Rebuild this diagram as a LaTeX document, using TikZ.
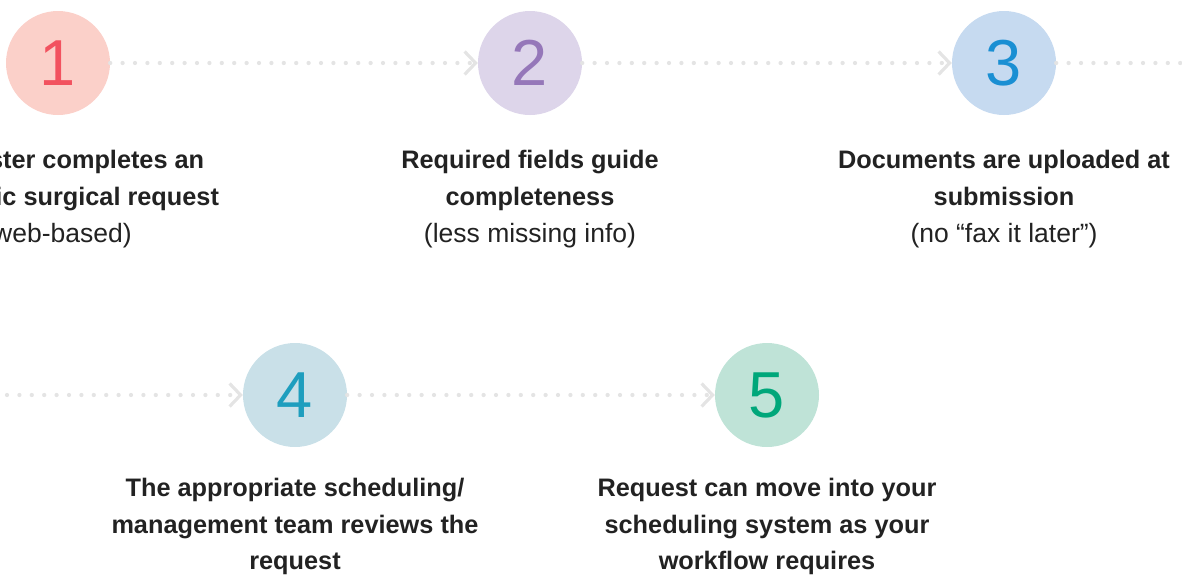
\documentclass[tikz,border=0pt]{standalone}
\usepackage{fontspec}
\setmainfont{Liberation Sans}
\usetikzlibrary{arrows.meta}
\definecolor{dotgray}{HTML}{E4E4E4}
\definecolor{txtdark}{HTML}{222222}
\definecolor{fillA}{HTML}{FBD0C9}\definecolor{numA}{HTML}{F2525F}
\definecolor{fillB}{HTML}{DDD5EA}\definecolor{numB}{HTML}{9577B9}
\definecolor{fillC}{HTML}{C6DAF0}\definecolor{numC}{HTML}{1A8FD3}
\definecolor{fillD}{HTML}{C9E0E8}\definecolor{numD}{HTML}{1E9EBE}
\definecolor{fillE}{HTML}{BFE3D7}\definecolor{numE}{HTML}{00A77A}
\tikzset{
  stepcircle/.style={circle, inner sep=0pt, minimum size=104pt,
    font=\fontsize{65}{65}\selectfont},
  dotbase/.style={draw=dotgray, line width=4.3pt, line cap=round,
    dash pattern=on 0pt off 12.4pt},
  dotline/.style={dotbase,
    -{Straight Barb[length=11pt, width=23pt, line width=3.2pt, line cap=butt]}},
  steptext/.style={anchor=north, inner sep=0pt, align=center, text=txtdark,
    font=\fontsize{25.3}{37}\selectfont\bfseries},
  lowtext/.style={steptext, font=\fontsize{25.3}{36.5}\selectfont\bfseries}
}
\newcommand{\regline}[1]{{\fontsize{26.5}{37}\selectfont\mdseries #1}}
\begin{document}
\begin{tikzpicture}[x=1pt,y=-1pt]
\useasboundingbox (0,0) rectangle (1182,574);
\node[stepcircle, fill=fillA, text=numA] (c1) at (58,63) {1};
\node[stepcircle, fill=fillB, text=numB] (c2) at (530,63) {2};
\node[stepcircle, fill=fillC, text=numC] (c3) at (1004,63) {3};
\node[stepcircle, fill=fillD, text=numD] (c4) at (295,395) {4};
\node[stepcircle, fill=fillE, text=numE] (c5) at (767,395) {5};
\coordinate (r3) at (1190,63);
\coordinate (l4) at (7,395);
\draw[dotline] (c1.east) -- (c2.west);
\draw[dotline] (c2.east) -- (c3.west);
\draw[dotbase] (c3.east) -- (r3);
\draw[dotline] (l4) -- (c4.west);
\draw[dotline] (c4.east) -- (c5.west);
\node[steptext] (t1) at (58,150) {Requester completes an\\electronic surgical request\\\regline{(web-based)}};
\node[steptext] (t2) at (530,150) {Required fields guide\\completeness\\\regline{(less missing info)}};
\node[steptext] (t3) at (1004,150) {Documents are uploaded at\\submission\\\regline{(no “fax it later”)}};
\node[lowtext] (t4) at (295,478) {The appropriate scheduling/\\management team reviews the\\request};
\node[lowtext] (t5) at (767,478) {Request can move into your\\scheduling system as your\\workflow requires};
\end{tikzpicture}
\end{document}
